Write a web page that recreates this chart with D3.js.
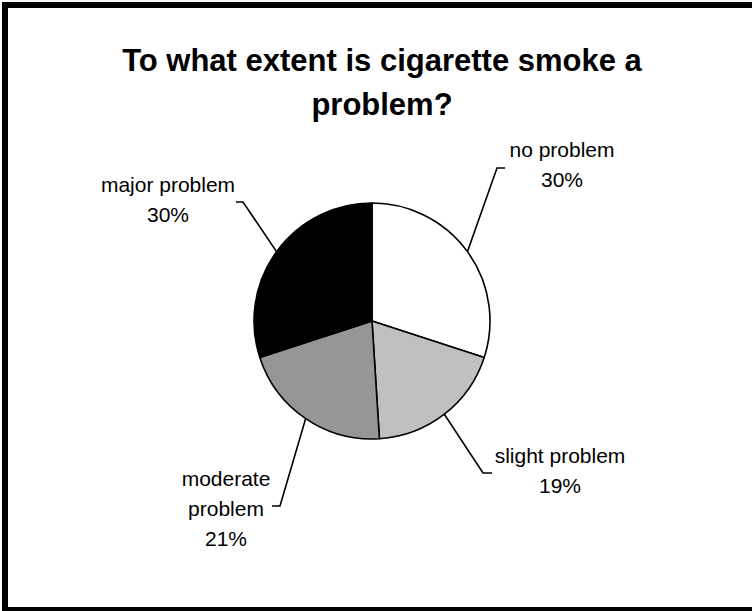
<!DOCTYPE html>
<html>
<head>
<meta charset="utf-8">
<script src="https://cdn.jsdelivr.net/npm/d3@7"></script>
<style>
  html, body { margin: 0; padding: 0; background: #fff; }
  svg { display: block; }
  text { font-family: "Liberation Sans", Arial, sans-serif; fill: #000; }
</style>
</head>
<body>
<script>
// ---- data ----
const categories = ["no problem", "slight problem", "moderate problem", "major problem"];
const values = [30, 19, 21, 30];
const percentLabels = ["30%", "19%", "21%", "30%"];
const labelLines = [["no problem"], ["slight problem"], ["moderate", "problem"], ["major problem"]];
const colors = ["#FFFFFF", "#C0C0C0", "#969696", "#000000"];
const titleLines = ["To what extent is cigarette smoke a", "problem?"];

// ---- layout ----
const W = 752, H = 611;
const cx = 372, cy = 321, R = 118;
// label layout relative to pie center: text center x, first baseline y, leader elbow, leader end
const labelLayout = [
  { tx: 190, ty: -164, ex: 125, ey: -153, hx: 133 },
  { tx: 188, ty: 142, ex: 111, ey: 152, hx: 120 },
  { tx: -146, ty: 165, ex: -92, ey: 185, hx: -100 },
  { tx: -204, ty: -129, ex: -129, ey: -119, hx: -136 }
];
const lineH = 30;

const svg = d3.select("body").append("svg").attr("width", W).attr("height", H);

svg.append("rect").attr("x", 5).attr("y", 5).attr("width", W).attr("height", 605)
  .attr("fill", "#fff").attr("stroke", "#000").attr("stroke-width", 6);

// title
const title = svg.append("text").attr("text-anchor", "middle")
  .attr("font-size", 31).attr("font-weight", "bold");
titleLines.forEach((t, i) => {
  title.append("tspan").attr("x", 382).attr("y", 71 + i * 44).text(t);
});

const pie = d3.pie().sort(null).value(d => d.value);
const data = categories.map((c, i) => ({ name: c, value: values[i], i }));
const arcs = pie(data);
const arc = d3.arc().innerRadius(0).outerRadius(R);
const edgeArc = d3.arc().innerRadius(R).outerRadius(R);

const g = svg.append("g").attr("transform", `translate(${cx},${cy})`);

g.selectAll("path.slice").data(arcs).enter().append("path")
  .attr("class", "slice")
  .attr("d", arc)
  .attr("fill", d => colors[d.data.i])
  .attr("stroke", "#000").attr("stroke-width", 1.6).attr("stroke-linejoin", "round");

// leader lines
g.selectAll("path.leader").data(arcs).enter().append("path")
  .attr("class", "leader")
  .attr("fill", "none").attr("stroke", "#000").attr("stroke-width", 1.6)
  .attr("d", d => {
    const L = labelLayout[d.data.i];
    const p = edgeArc.centroid(d);
    return d3.line()([p, [L.ex, L.ey], [L.hx, L.ey]]);
  });

// labels
arcs.forEach(d => {
  const L = labelLayout[d.data.i];
  const t = g.append("text").attr("text-anchor", "middle").attr("font-size", 21);
  const lines = labelLines[d.data.i].concat([percentLabels[d.data.i]]);
  lines.forEach((s, k) => {
    t.append("tspan").attr("x", L.tx).attr("y", L.ty + k * lineH).text(s);
  });
});
</script>
</body>
</html>
